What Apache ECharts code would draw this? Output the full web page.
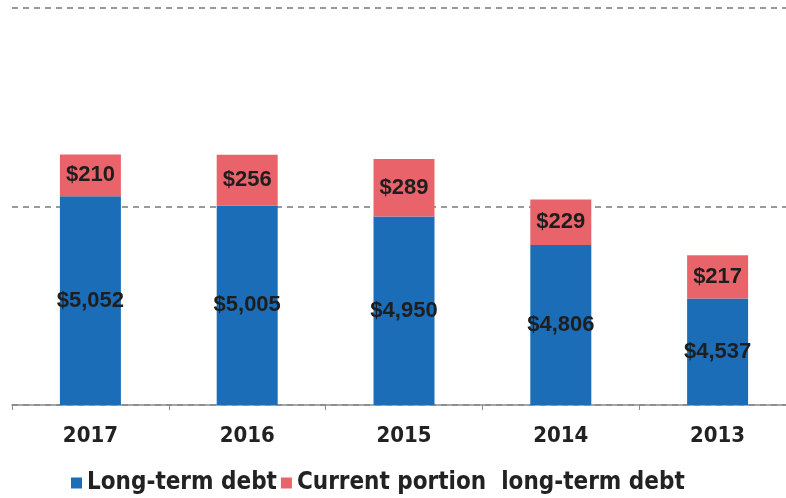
<!DOCTYPE html>
<html>
<head>
<meta charset="utf-8">
<script src="https://cdn.jsdelivr.net/npm/echarts@6/dist/echarts.min.js"></script>
<style>
html,body{margin:0;padding:0;background:#fff;}
#main{width:786px;height:498px;}
</style>
</head>
<body>
<div id="main"></div>
<script>
// 数据
var years = ['2017', '2016', '2015', '2014', '2013'];
var longTerm = [5052, 5005, 4950, 4806, 4537];
var currentPortion = [210, 256, 289, 229, 217];
var seriesNames = ['Long-term debt', 'Current portion  long-term debt'];

var myChart = echarts.init(document.getElementById('main'));

function money(v) {
	return '$' + v.toLocaleString('en-US');
}

var narrow = '"DejaVu Sans Condensed", "Liberation Sans", sans-serif';

var labelFont = {
	show: true,
	position: 'inside',
	color: '#1e1e1e',
	fontFamily: 'Liberation Sans',
	fontWeight: 'bold',
	fontSize: 22
};

var option = {
	animation: false,
	backgroundColor: '#fff',
	grid: { left: 12, width: 784, top: 8, bottom: 93, outerBoundsMode: 'none', containLabel: false },
	legend: {
		data: seriesNames,
		left: 66,
		top: 466,
		itemWidth: 11,
		itemHeight: 11,
		itemGap: 4,
		icon: 'rect',
		textStyle: {
			color: '#222',
			fontFamily: narrow,
			fontWeight: 'bold',
			fontSize: 24
		}
	},
	xAxis: {
		type: 'category',
		data: years,
		axisLine: { lineStyle: { color: '#8a8a8a', width: 1.5 } },
		axisTick: { show: true, length: 5, lineStyle: { color: '#8a8a8a' } },
		axisLabel: {
			color: '#222',
			fontFamily: narrow,
			fontWeight: 'bold',
			fontSize: 22,
			margin: 20
		}
	},
	yAxis: {
		type: 'value',
		min: 4000,
		max: 6000,
		interval: 1000,
		axisLine: { show: false },
		axisTick: { show: false },
		axisLabel: { show: false },
		splitLine: { lineStyle: { color: '#9a9a9a', type: [6, 5], width: 2 } }
	},
	series: [
		{
			name: seriesNames[0],
			type: 'bar',
			stack: 'debt',
			barWidth: 61,
			itemStyle: { color: '#1b6db8' },
			label: Object.assign({}, labelFont, {
				formatter: function(p) { return money(p.value); }
			}),
			data: longTerm
		},
		{
			name: seriesNames[1],
			type: 'bar',
			stack: 'debt',
			barWidth: 61,
			itemStyle: { color: '#e8646a' },
			label: Object.assign({}, labelFont, {
				formatter: function(p) { return money(p.value); }
			}),
			data: currentPortion
		}
	]
};

myChart.setOption(option);
</script>
</body>
</html>
